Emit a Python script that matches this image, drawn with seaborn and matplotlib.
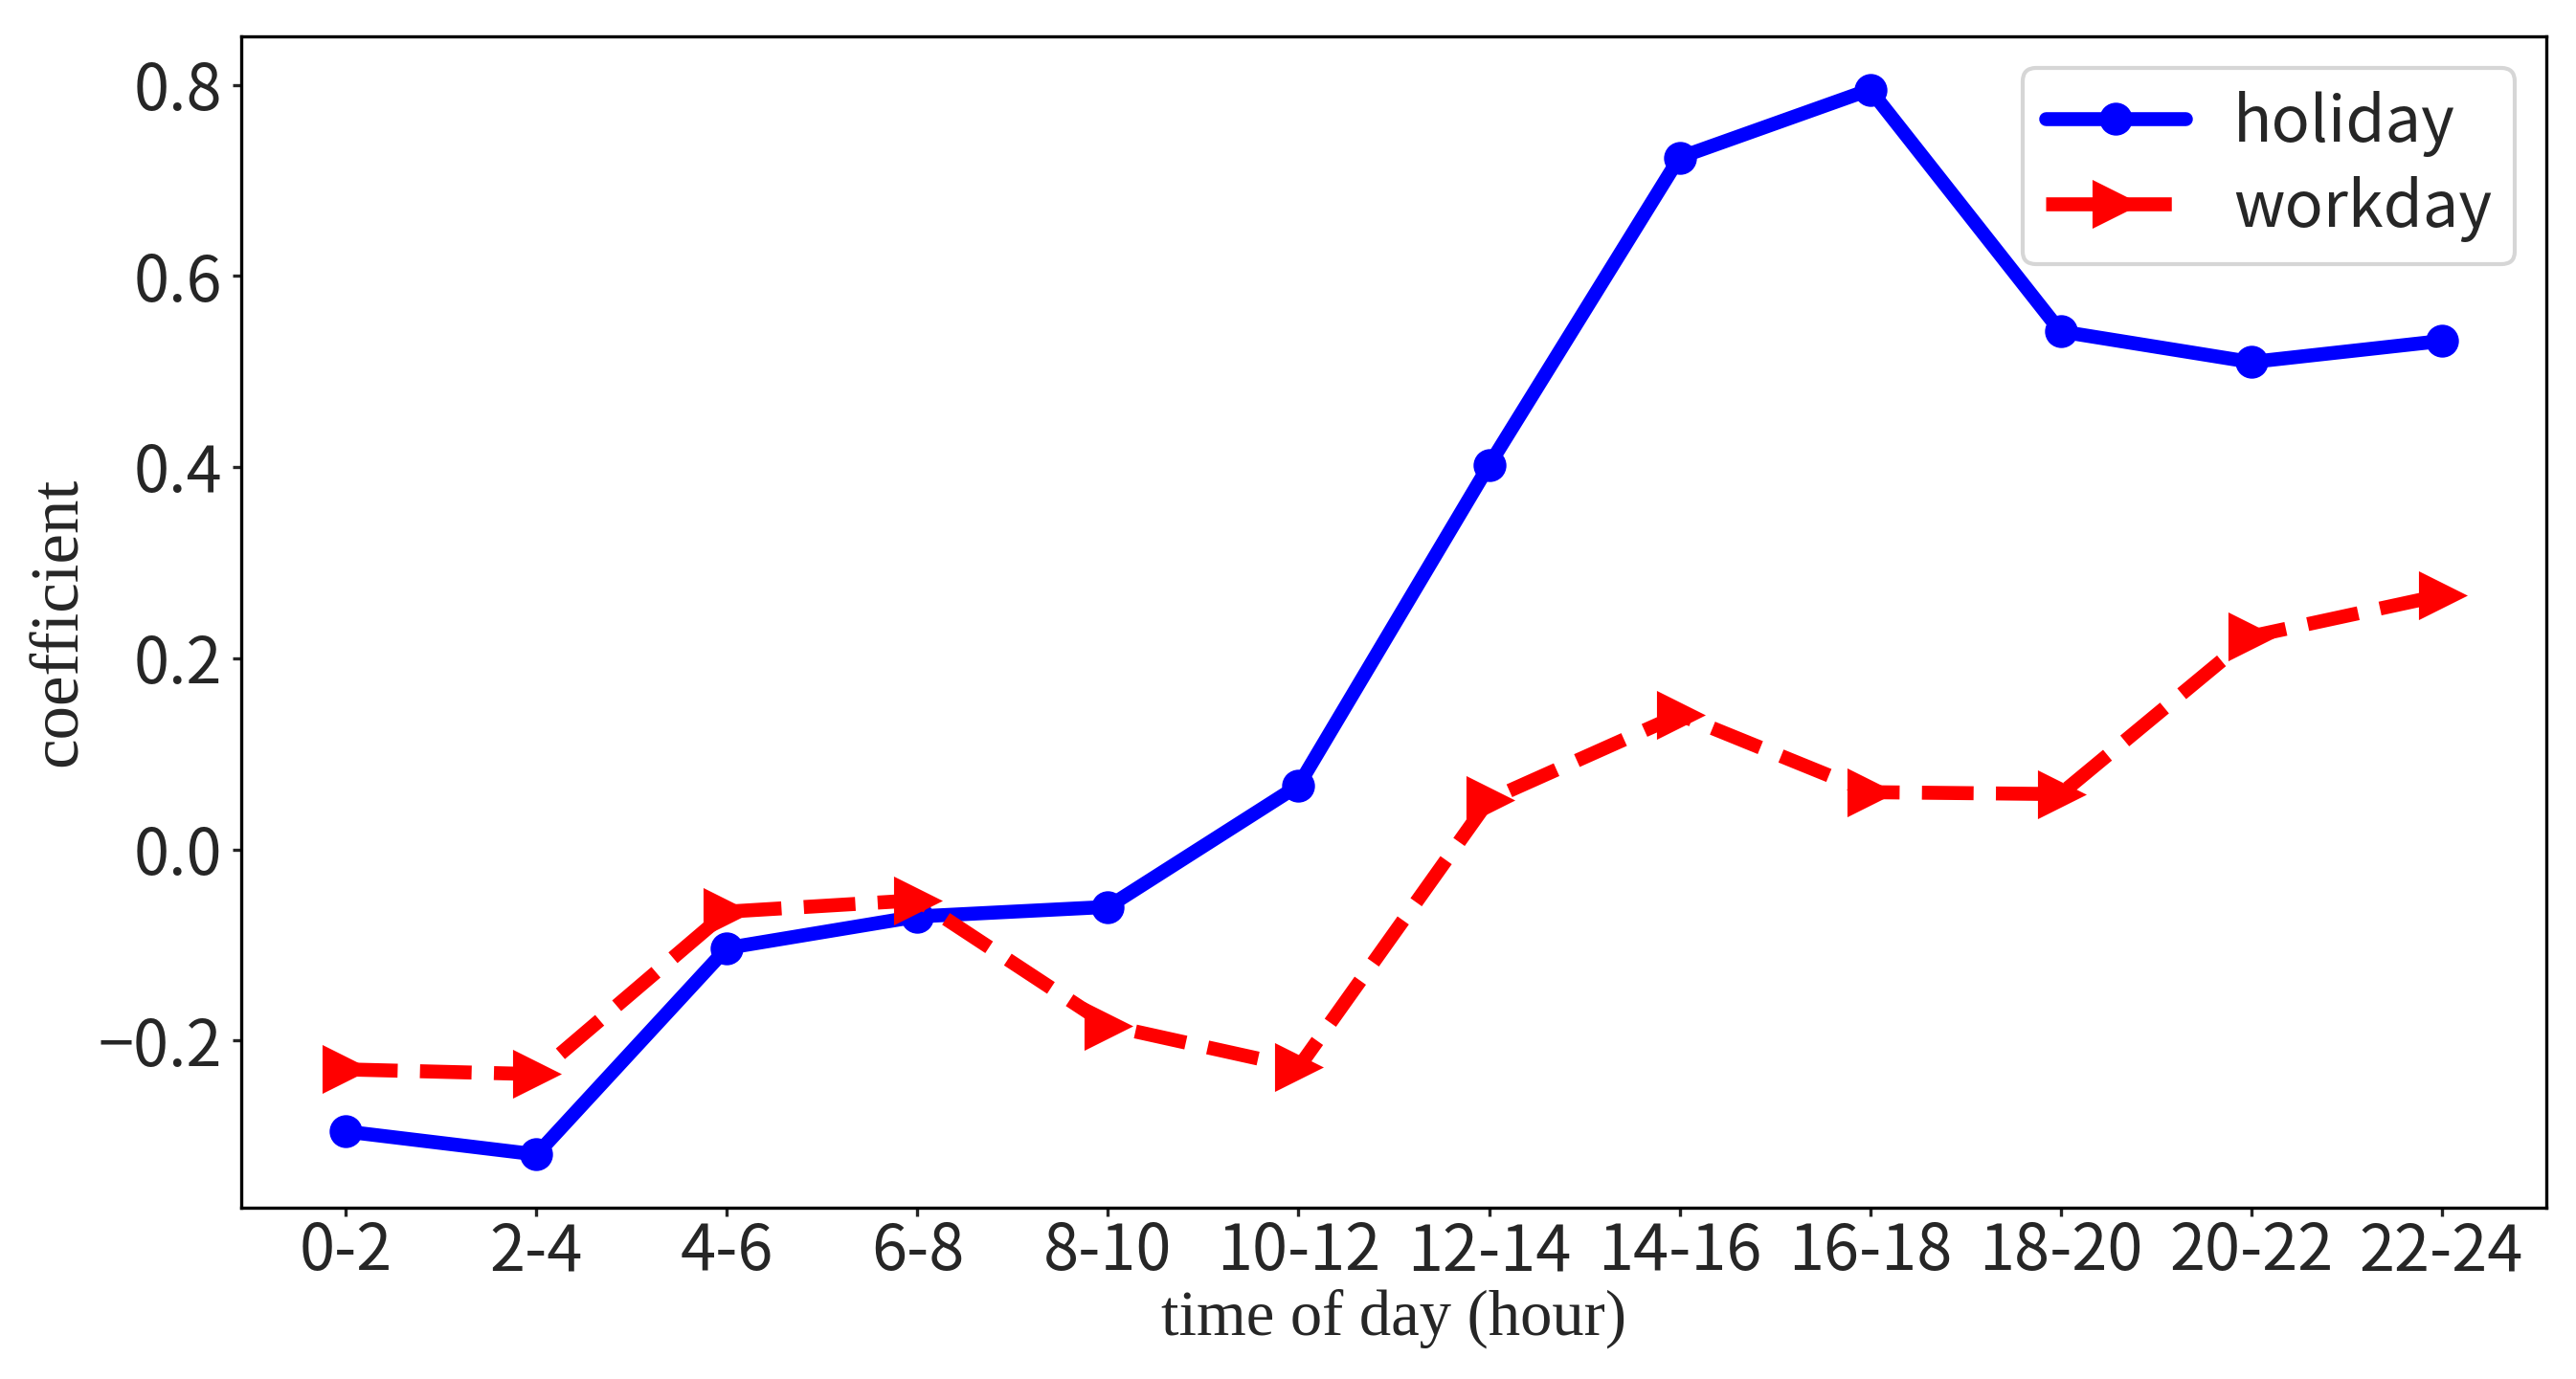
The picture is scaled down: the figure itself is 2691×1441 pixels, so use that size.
import pandas as pd
import matplotlib
matplotlib.use("Agg")
import matplotlib.pyplot as plt
import seaborn as sns

# time-of-day bins and the two coefficient series
hours = ["0-2", "2-4", "4-6", "6-8", "8-10", "10-12",
         "12-14", "14-16", "16-18", "18-20", "20-22", "22-24"]
holiday = [-0.295, -0.319, -0.103, -0.070, -0.060, 0.067,
           0.402, 0.724, 0.795, 0.542, 0.510, 0.532]
workday = [-0.230, -0.235, -0.065, -0.053, -0.184, -0.228,
           0.052, 0.141, 0.060, 0.058, 0.223, 0.266]
series_names = ["holiday", "workday"]


def build_frame() -> pd.DataFrame:
    frames = []
    for name, values in zip(series_names, [holiday, workday]):
        frames.append(pd.DataFrame({"hour": hours, "coef": values, "day": name}))
    return pd.concat(frames, ignore_index=True)


def main():
    df = build_frame()

    sns.set_style("ticks")
    plt.rcParams["font.family"] = ["Noto Sans CJK SC", "DejaVu Sans"]

    fig, ax = plt.subplots(figsize=(2691 / 300, 1441 / 300), dpi=300)

    sns.lineplot(
        data=df, x="hour", y="coef", hue="day", style="day",
        hue_order=series_names, style_order=series_names,
        palette={"holiday": "blue", "workday": "red"},
        markers={"holiday": "o", "workday": ">"},
        dashes={"holiday": "", "workday": (3.7, 1.6)},
        sort=False, errorbar=None, legend=False, linewidth=3.5, ax=ax,
    )

    sizes = {"holiday": 7.5, "workday": 11}
    for line, name in zip(ax.lines, series_names):
        line.set_markeredgecolor(line.get_color())
        line.set_markerfacecolor(line.get_color())
        line.set_markersize(sizes[name])

    for side in ["top", "right", "bottom", "left"]:
        ax.spines[side].set_visible(True)
        ax.spines[side].set_color("black")
        ax.spines[side].set_linewidth(0.8)

    ax.tick_params(axis="both", labelsize=16, length=2.2, width=0.8)
    ax.tick_params(axis="x", pad=0.8)
    ax.tick_params(axis="y", pad=2.5)
    ax.set_yticks([-0.2, 0.0, 0.2, 0.4, 0.6, 0.8])
    ax.set_xlabel("time of day (hour)", family="Liberation Serif", fontsize=16, labelpad=1)
    ax.set_ylabel("coefficient", family="Liberation Serif", fontsize=17, labelpad=2)

    ax.legend(handles=ax.lines[:2], labels=series_names, loc="upper right",
              fontsize=16, handlelength=2.2, handletextpad=0.75, frameon=True,
              borderpad=0.35, labelspacing=0.3)

    fig.subplots_adjust(left=252 / 2691, right=2660 / 2691,
                        top=1 - 38 / 1441, bottom=1 - 1262 / 1441)
    fig.savefig("out.png", dpi=300)
    plt.close(fig)


if __name__ == "__main__":
    main()
